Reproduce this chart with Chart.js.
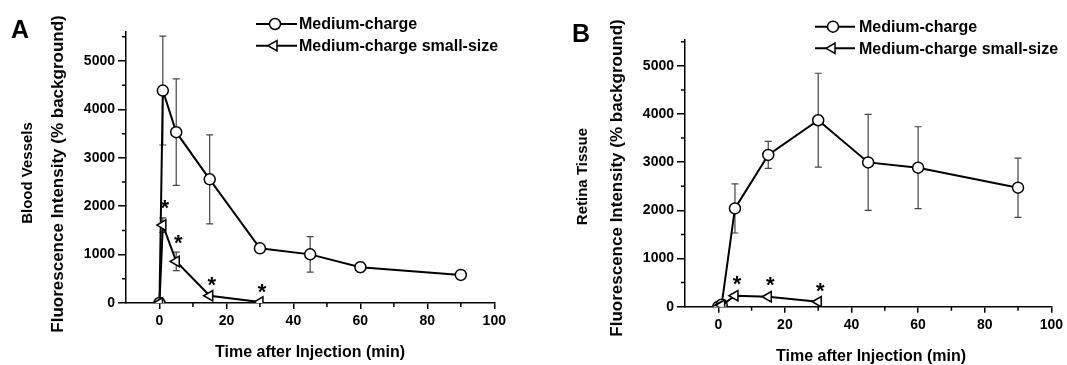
<!DOCTYPE html>
<html><head><meta charset="utf-8">
<script src="https://cdn.jsdelivr.net/npm/chart.js@4/dist/chart.umd.min.js"></script>
<style>
html,body{margin:0;padding:0;background:#fff;}
body{width:1067px;height:365px;position:relative;overflow:hidden;}
canvas{position:absolute;top:0;}
</style></head>
<body>
<canvas id="cA" width="533" height="365" style="left:0px"></canvas>
<canvas id="cB" width="547" height="365" style="left:520px"></canvas>
<script>
// ---- data ----
const xTicks = [0, 20, 40, 60, 80, 100];
const xMinor = [10, 30, 50, 70, 90];
const yTicks = [0, 1000, 2000, 3000, 4000, 5000];
const yMinor = [500, 1500, 2500, 3500, 4500, 5500];
const seriesNames = ['Medium-charge', 'Medium-charge small-size'];

// Panel A: Blood Vessels
const A_mc_x = [0, 1, 5, 15, 30, 45, 60, 90];
const A_mc_y = [0, 4390, 3530, 2555, 1130, 1005, 740, 580];
const A_mc_err = [0, 1125, 1100, 920, 60, 368, 100, 90];
const A_ss_x = [0, 1, 5, 15, 30];
const A_ss_y = [0, 1610, 860, 150, 20];
const A_ss_err = [0, 150, 190, 30, 10];
const A_stars = [1, 2, 3, 4];

// Panel B: Retina Tissue
const B_mc_x = [0, 1, 5, 15, 30, 45, 60, 90];
const B_mc_y = [0, 40, 2040, 3150, 3870, 2995, 2885, 2470];
const B_mc_err = [0, 20, 510, 280, 975, 995, 850, 615];
const B_ss_x = [0, 1, 5, 15, 30];
const B_ss_y = [0, 30, 228, 207, 103];
const B_ss_err = [0, 10, 40, 40, 30];
const B_stars = [2, 3, 4];

const FONT = '"Liberation Sans", Arial, sans-serif';

function pts(xs, ys) { return xs.map((x, i) => ({x: x, y: ys[i]})); }

function makePanel(id, cfg) {
  const W = cfg.canvasW, H = 365, off = cfg.offset;
  const plugin = {
    id: 'extras' + id,
    beforeDatasetsDraw(chart) {
      const ctx = chart.ctx, xs = chart.scales.x, ys = chart.scales.y;
      ctx.save();
      ctx.strokeStyle = '#444';
      ctx.lineWidth = 1.2;
      cfg.errs.forEach((errArr, di) => {
        const d = chart.data.datasets[di].data;
        d.forEach((p, i) => {
          const e = errArr[i];
          if (!e) return;
          const px = xs.getPixelForValue(p.x);
          const yt = ys.getPixelForValue(p.y + e);
          const yb = ys.getPixelForValue(p.y - e);
          ctx.beginPath();
          ctx.moveTo(px, yt); ctx.lineTo(px, yb);
          ctx.moveTo(px - 3.5, yt); ctx.lineTo(px + 3.5, yt);
          ctx.moveTo(px - 3.5, yb); ctx.lineTo(px + 3.5, yb);
          ctx.stroke();
        });
      });
      ctx.restore();
    },
    afterDraw(chart) {
      const ctx = chart.ctx, xs = chart.scales.x, ys = chart.scales.y;
      const ca = chart.chartArea;
      ctx.save();
      // minor ticks
      ctx.strokeStyle = '#000'; ctx.lineWidth = 1.5;
      ctx.beginPath();
      xMinor.forEach(v => { const px = xs.getPixelForValue(v); ctx.moveTo(px, ca.bottom); ctx.lineTo(px, ca.bottom + 4); });
      yMinor.forEach(v => { if (v > ys.max) return; const py = ys.getPixelForValue(v); ctx.moveTo(ca.left, py); ctx.lineTo(ca.left - 4, py); });
      ctx.stroke();
      // stars
      ctx.fillStyle = '#000';
      ctx.font = 'bold 22px ' + FONT;
      ctx.textAlign = 'center'; ctx.textBaseline = 'alphabetic';
      const ssd = chart.data.datasets[1].data;
      cfg.stars.forEach(i => {
        const p = ssd[i];
        const px = xs.getPixelForValue(p.x) + 2;
        const py = ys.getPixelForValue(p.y + cfg.errs[1][i]) - 15;
        ctx.fillText('*', px, py + 12.5);
      });
      // legend
      const L = cfg.legend;
      ctx.lineWidth = 2; ctx.strokeStyle = '#000';
      [0, 1].forEach(k => {
        const y = L.y[k];
        ctx.beginPath(); ctx.moveTo(L.x1 - off, y); ctx.lineTo(L.x2 - off, y); ctx.stroke();
        ctx.fillStyle = '#fff';
        ctx.lineWidth = 1.5;
        Chart.helpers.drawPoint(ctx, {
          pointStyle: k === 0 ? 'circle' : 'triangle', radius: k === 0 ? 5.5 : 6,
          rotation: k === 0 ? 0 : -90, borderWidth: 1.5
        }, L.mx - off + (k === 0 ? 0 : -1), y);
        ctx.lineWidth = 2;
      });
      ctx.fillStyle = '#000';
      ctx.font = 'bold 16px ' + FONT;
      ctx.textAlign = 'left'; ctx.textBaseline = 'middle';
      [0, 1].forEach(k => ctx.fillText(seriesNames[k], L.tx - off, L.y[k] + 1));
      // panel letter
      ctx.font = 'bold 25px ' + FONT;
      ctx.textBaseline = 'alphabetic';
      ctx.fillText(cfg.letter, cfg.letterX - off, cfg.letterY);
      // x title
      ctx.font = 'bold 16px ' + FONT;
      ctx.textAlign = 'center'; ctx.textBaseline = 'middle';
      ctx.fillText('Time after Injection (min)', cfg.xTitle[0] - off, cfg.xTitle[1]);
      // y titles
      ctx.save();
      ctx.translate(cfg.yTitle1[0] - off, cfg.yTitle1[1]);
      ctx.rotate(-Math.PI / 2);
      ctx.font = 'bold 15px ' + FONT;
      ctx.fillText(cfg.tissue, 0, 0);
      ctx.restore();
      ctx.save();
      ctx.translate(cfg.yTitle2[0] - off, cfg.yTitle2[1]);
      ctx.rotate(-Math.PI / 2);
      ctx.font = 'bold 17px ' + FONT;
      ctx.fillText('Fluorescence Intensity (% background)', 0, 0);
      ctx.restore();
      ctx.restore();
    }
  };

  const common = {
    showLine: true, borderColor: '#000', borderWidth: 2, backgroundColor: '#fff',
    pointBorderColor: '#000', pointBackgroundColor: '#fff', pointBorderWidth: 1.5,
    tension: 0, fill: false
  };

  return new Chart(document.getElementById(id), {
    type: 'scatter',
    data: {
      datasets: [
        Object.assign({}, common, {label: seriesNames[0], data: pts(cfg.mc[0], cfg.mc[1]),
          pointStyle: 'circle', pointRadius: 5.5, order: 2}),
        Object.assign({}, common, {label: seriesNames[1], data: pts(cfg.ss[0], cfg.ss[1]),
          pointStyle: 'triangle', pointRadius: 6, pointRotation: -90, order: 1})
      ]
    },
    options: {
      responsive: false, animation: false, devicePixelRatio: 1,
      layout: {padding: {left: 0, top: cfg.top, right: W - cfg.right, bottom: 0}},
      plugins: {legend: {display: false}, tooltip: {enabled: false}},
      scales: {
        x: {
          type: 'linear', min: -10, max: 100,
          afterBuildTicks: s => { s.ticks = xTicks.map(v => ({value: v})); },
          afterFit: s => { s.height = H - cfg.bottom; },
          grid: {drawOnChartArea: false, drawTicks: true, tickLength: 6, color: '#000', lineWidth: 1.5},
          border: {color: '#000', width: 1.5},
          ticks: {color: '#000', font: {family: FONT, size: 14, weight: 'bold'}, padding: 4, maxRotation: 0,
            callback: v => String(v)}
        },
        y: {
          type: 'linear', min: 0, max: cfg.yMax,
          afterBuildTicks: s => { s.ticks = yTicks.map(v => ({value: v})); },
          afterFit: s => { s.width = cfg.left; },
          grid: {drawOnChartArea: false, drawTicks: true, tickLength: 8, color: '#000', lineWidth: 1.5},
          border: {color: '#000', width: 1.5},
          ticks: {color: '#000', font: {family: FONT, size: 14, weight: 'bold'}, padding: 3,
            callback: v => String(v)}
        }
      }
    },
    plugins: [plugin]
  });
}

makePanel('cA', {
  canvasW: 533, offset: 0, left: 126, right: 494.3, top: 32, bottom: 303, yMax: 5600,
  mc: [A_mc_x, A_mc_y], ss: [A_ss_x, A_ss_y], errs: [A_mc_err, A_ss_err], stars: A_stars,
  legend: {x1: 256, x2: 297, mx: 275, tx: 299, y: [24, 45.7]},
  letter: 'A', letterX: 11, letterY: 38,
  xTitle: [310, 353], yTitle1: [28, 173], yTitle2: [58, 174], tissue: 'Blood Vessels'
});
makePanel('cB', {
  canvasW: 547, offset: 520, left: 165, right: 534.3, top: 39.3, bottom: 306.7, yMax: 5550,
  mc: [B_mc_x, B_mc_y], ss: [B_ss_x, B_ss_y], errs: [B_mc_err, B_ss_err], stars: B_stars,
  legend: {x1: 815, x2: 855, mx: 833, tx: 859, y: [26.7, 48.3]},
  letter: 'B', letterX: 572, letterY: 42,
  xTitle: [871, 357], yTitle1: [583, 176.5], yTitle2: [617, 178], tissue: 'Retina Tissue'
});
</script>
</body></html>
